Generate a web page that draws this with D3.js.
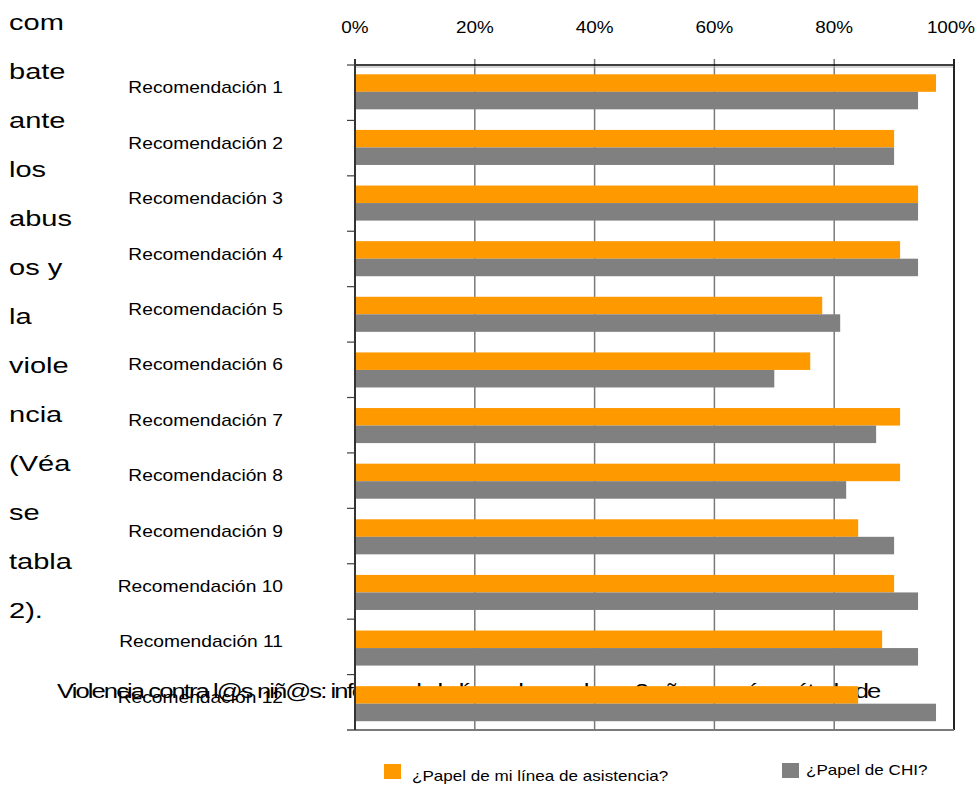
<!DOCTYPE html>
<html>
<head>
<meta charset="utf-8">
<script src="https://cdn.jsdelivr.net/npm/d3@7"></script>
<style>
  body { margin: 0; background: #fff; }
  svg { display: block; font-family: "Liberation Sans", Arial, sans-serif; }
</style>
</head>
<body>
<div id="chart"></div>
<script>
// data
var categories = ["Recomendación 1", "Recomendación 2", "Recomendación 3", "Recomendación 4",
  "Recomendación 5", "Recomendación 6", "Recomendación 7", "Recomendación 8",
  "Recomendación 9", "Recomendación 10", "Recomendación 11", "Recomendación 12"]
var helpline = [97, 90, 94, 91, 78, 76, 91, 91, 84, 90, 88, 84]
var chi = [94, 90, 94, 94, 81, 70, 87, 82, 90, 94, 94, 97]
var seriesNames = ["¿Papel de mi línea de asistencia?", "¿Papel de CHI?"]
var tickValues = [0, 20, 40, 60, 80, 100]
var sideWords = ["com", "bate", "ante", "los", "abus", "os y", "la", "viole", "ncia", "(Véa", "se", "tabla", "2)."]
var strayLine = "Violencia contra l@s niñ@s: informe de la línea de ayuda en 2 años, según método de"

var colors = ["#FF9900", "#808080"]

var W = 978, H = 785
var plot = { left: 355, right: 954, top: 65, bottom: 730 }

// the source picture is stretched sideways, text included
function stretched(sel, sx) {
  return sel.attr("transform", function() {
    var t = d3.select(this)
    var px = +t.attr("data-x"), py = +t.attr("data-y")
    return "translate(" + px + "," + py + ") scale(" + sx + ",1)"
  })
}

var svg = d3.select("#chart").append("svg")
  .attr("width", W)
  .attr("height", H)

var x = d3.scaleLinear()
  .domain([0, 100])
  .range([plot.left, plot.right])

var y = d3.scaleBand()
  .domain(categories)
  .range([plot.top, plot.bottom])

// bar pairs are spaced a touch wider than the tick bands
var yBars = d3.scaleBand()
  .domain(categories)
  .range([plot.top - 1, plot.bottom + 1.5])
  .paddingInner(0.37)
  .paddingOuter(0.185)

var ySub = d3.scaleBand()
  .domain([0, 1])
  .range([0, yBars.bandwidth()])

// wrapped body text on the left
svg.append("g").selectAll("text")
  .data(sideWords).enter().append("text")
  .attr("data-x", 9)
  .attr("data-y", (d, i) => 30 + i * 49)
  .style("font-size", "22px")
  .style("fill", "#000")
  .text(d => d)
  .call(stretched, 1.32)

// the stray caption line that sits under the bars
svg.append("text")
  .attr("data-x", 57)
  .attr("data-y", 697.5)
  .attr("textLength", 644)
  .attr("lengthAdjust", "spacing")
  .style("font-size", "20px")
  .style("fill", "#000")
  .text(strayLine)
  .call(stretched, 1.28)

// category labels
svg.append("g").selectAll("text")
  .data(categories).enter().append("text")
  .attr("data-x", 283)
  .attr("data-y", d => y(d) + y.bandwidth() / 2 - 5)
  .attr("dy", "0.35em")
  .attr("text-anchor", "end")
  .style("font-size", "16px")
  .style("fill", "#000")
  .text(d => d)
  .call(stretched, 1.2)

// top tick labels
var xAxis = d3.axisTop(x)
  .tickValues(tickValues)
  .tickFormat(d => d + "%")
  .tickSize(0)

var axisG = svg.append("g")
  .attr("transform", "translate(0,33)")
  .call(xAxis)
axisG.select(".domain").remove()
axisG.selectAll("text")
  .attr("dy", 0)
  .attr("y", 0)
  .attr("transform", "scale(1.18,1)")
  .style("font-size", "16px")
  .style("font-family", "Liberation Sans, Arial, sans-serif")
  .style("fill", "#000")
axisG.selectAll(".tick")
  .attr("transform", d => "translate(" + (x(d) - (d === 100 ? 3 : 0)) + ",0)")

// gridlines
svg.append("g").selectAll("line")
  .data(tickValues.slice(1, -1)).enter().append("line")
  .attr("x1", d => x(d))
  .attr("x2", d => x(d))
  .attr("y1", plot.top - 6)
  .attr("y2", plot.bottom)
  .style("stroke", "#7a7a7a")
  .style("stroke-width", 1.5)

// left ticks
svg.append("g").selectAll("line")
  .data(d3.range(categories.length + 1)).enter().append("line")
  .attr("x1", plot.left - 8)
  .attr("x2", plot.left)
  .attr("y1", i => plot.top + i * y.step())
  .attr("y2", i => plot.top + i * y.step())
  .style("stroke", "#404040")
  .style("stroke-width", 1.2)

// bars
var groups = svg.append("g").selectAll("g")
  .data(categories).enter().append("g")
  .attr("transform", d => "translate(0," + yBars(d) + ")")

groups.selectAll("rect")
  .data((d, i) => [helpline[i], chi[i]]).enter().append("rect")
  .attr("x", x(0))
  .attr("y", (d, j) => ySub(j))
  .attr("width", d => x(d) - x(0))
  .attr("height", ySub.bandwidth())
  .style("fill", (d, j) => colors[j])

// frame
svg.append("line")
  .attr("x1", plot.left).attr("x2", plot.right)
  .attr("y1", plot.top + 2).attr("y2", plot.top + 2)
  .style("stroke", "#b0b0b0").style("stroke-width", 1.2)
svg.append("line")
  .attr("x1", plot.left).attr("x2", plot.right)
  .attr("y1", plot.top).attr("y2", plot.top)
  .style("stroke", "#000").style("stroke-width", 1.5)
svg.append("line")
  .attr("x1", plot.right).attr("x2", plot.right)
  .attr("y1", plot.top - 6).attr("y2", plot.bottom)
  .style("stroke", "#222").style("stroke-width", 2)
svg.append("line")
  .attr("x1", plot.left - 8).attr("x2", plot.right)
  .attr("y1", plot.bottom).attr("y2", plot.bottom)
  .style("stroke", "#7a7a7a").style("stroke-width", 2)
svg.append("line")
  .attr("x1", plot.left).attr("x2", plot.left)
  .attr("y1", plot.top - 6).attr("y2", plot.bottom)
  .style("stroke", "#333").style("stroke-width", 2)

// legend
var legendPos = [{ x: 384, y: 764, tx: 412, ty: 781 }, { x: 782, y: 763, tx: 806, ty: 775 }]
var legend = svg.append("g").selectAll("g")
  .data(seriesNames).enter().append("g")

legend.append("rect")
  .attr("x", (d, i) => legendPos[i].x)
  .attr("y", (d, i) => legendPos[i].y)
  .attr("width", 17)
  .attr("height", 15)
  .style("fill", (d, i) => colors[i])

legend.append("text")
  .attr("data-x", (d, i) => legendPos[i].tx)
  .attr("data-y", (d, i) => legendPos[i].ty)
  .style("font-size", "14px")
  .style("fill", "#000")
  .text(d => d)
  .call(stretched, 1.22)
</script>
</body>
</html>
